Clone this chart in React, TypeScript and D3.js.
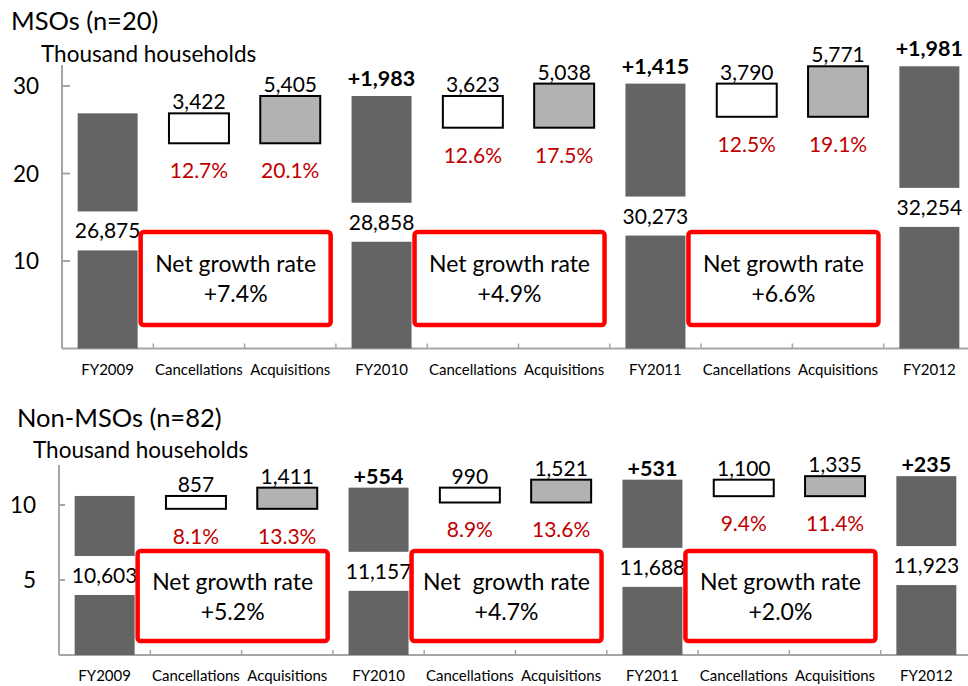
import React from 'react';
import * as d3 from 'd3';

const categories = ['FY2009', 'Cancellations', 'Acquisitions', 'FY2010', 'Cancellations', 'Acquisitions', 'FY2011', 'Cancellations', 'Acquisitions', 'FY2012'];

const msoTotals = [26875, 28858, 30273, 32254];
const msoCancellations = [3422, 3623, 3790];
const msoAcquisitions = [5405, 5038, 5771];
const msoCancelRates = ['12.7%', '12.6%', '12.5%'];
const msoAcqRates = ['20.1%', '17.5%', '19.1%'];
const msoNetGrowth = ['+7.4%', '+4.9%', '+6.6%'];
const msoBoxTitles = ['Net growth rate', 'Net growth rate', 'Net growth rate'];
const msoTicks = [10, 20, 30];

const nonTotals = [10603, 11157, 11688, 11923];
const nonCancellations = [857, 990, 1100];
const nonAcquisitions = [1411, 1521, 1335];
const nonCancelRates = ['8.1%', '8.9%', '9.4%'];
const nonAcqRates = ['13.3%', '13.6%', '11.4%'];
const nonNetGrowth = ['+5.2%', '+4.7%', '+2.0%'];
const nonBoxTitles = ['Net growth rate', 'Net\u00a0 growth rate', 'Net growth rate'];
const nonTicks = [5, 10];

const FONT = 'Lato, Carlito, "Open Sans", sans-serif';
const fmt = d3.format(',');

type ChartProps = {
  title: string;
  titleX: number;
  titleY: number;
  subX: number;
  subY: number;
  totals: number[];
  cancels: number[];
  acqs: number[];
  cancelRates: string[];
  acqRates: string[];
  growth: string[];
  boxTitles: string[];
  ticks: number[];
  y0: number;
  yTop: number;
  yMax: number;
  xLeft: number;
  netOffset: number;
  boxTopOffset: number;
  boxHeight: number;
  boxText1: number;
  boxText2: number;
  tickLen: number;
};

function Waterfall(p: ChartProps) {
  const x = d3.scaleBand<number>()
    .domain(categories.map((_, i) => i))
    .range([p.xLeft, p.xLeft + 913])
    .paddingInner(0.343)
    .paddingOuter(0.1715);
  const y = d3.scaleLinear().domain([0, p.yMax]).range([p.y0, p.yTop]);
  const bw = x.bandwidth();
  const step = x.step();
  const axisColor = '#A6A6A6';

  const items: React.ReactNode[] = [];

  // totals
  p.totals.forEach((v, k) => {
    const xi = x(k * 3)!;
    const top = y(v);
    const mid = (top + p.y0) / 2;
    items.push(
      <g key={'t' + k}>
        <rect x={xi} y={top} width={bw} height={p.y0 - top} fill="#646464" />
        <rect x={xi - 1} y={mid - 19.5} width={bw + 2} height={39} fill="#ffffff" />
        <text x={xi + bw / 2} y={mid} dy="0.36em" textAnchor="middle" fontSize={21} fill="#000">{fmt(v)}</text>
        {k > 0 && (
          <text x={xi + bw / 2} y={top - p.netOffset} textAnchor="middle" fontSize={21.5} fontWeight="bold" fill="#000">
            {'+' + fmt(v - p.totals[k - 1])}
          </text>
        )}
      </g>
    );
  });

  // cancellations & acquisitions
  p.cancels.forEach((c, k) => {
    const prev = p.totals[k];
    const low = prev - c;
    const a = p.acqs[k];
    const xc = x(k * 3 + 1)!;
    const xa = x(k * 3 + 2)!;
    const boxX = x(k * 3)! + bw + 3;
    const boxY = p.y0 - p.boxTopOffset;
    items.push(
      <g key={'c' + k}>
        <rect x={xc} y={y(prev)} width={bw} height={y(low) - y(prev)} fill="#ffffff" stroke="#000" strokeWidth={2} />
        <text x={xc + bw / 2} y={y(prev) - 4} textAnchor="middle" fontSize={21} fill="#000">{fmt(c)}</text>
        <text x={xc + bw / 2} y={y(low) + 35} textAnchor="middle" fontSize={21} fill="#C00000">{p.cancelRates[k]}</text>
        <rect x={xa} y={y(low + a)} width={bw} height={y(low) - y(low + a)} fill="#B2B2B2" stroke="#000" strokeWidth={2} />
        <text x={xa + bw / 2} y={y(low + a) - 4} textAnchor="middle" fontSize={21} fill="#000">{fmt(a)}</text>
        <text x={xa + bw / 2} y={y(low) + 35} textAnchor="middle" fontSize={21} fill="#C00000">{p.acqRates[k]}</text>
        <rect x={boxX} y={boxY} width={190} height={p.boxHeight} rx={3} fill="#ffffff" stroke="#FF0000" strokeWidth={4.5} />
        <text x={boxX + 95} y={boxY + p.boxText1} textAnchor="middle" fontSize={23} fill="#000" style={{ whiteSpace: 'pre' }}>{p.boxTitles[k]}</text>
        <text x={boxX + 95} y={boxY + p.boxText2} textAnchor="middle" fontSize={23} fill="#000">{p.growth[k]}</text>
      </g>
    );
  });

  return (
    <g fontFamily={FONT}>
      <text x={p.titleX} y={p.titleY} fontSize={25.5} fill="#000">{p.title}</text>
      <text x={p.subX} y={p.subY} fontSize={22.5} fill="#000">Thousand households</text>
      {/* y axis */}
      <line x1={p.xLeft} x2={p.xLeft} y1={p.yTop} y2={p.y0} stroke={axisColor} strokeWidth={2} />
      {p.ticks.map((t) => (
        <g key={'yt' + t}>
          <line x1={p.xLeft} x2={p.xLeft + p.tickLen} y1={y(t * 1000)} y2={y(t * 1000)} stroke={axisColor} strokeWidth={2} />
          <text x={p.xLeft - 23} y={y(t * 1000)} dy="0.36em" textAnchor="end" fontSize={22.5} fill="#000">{t}</text>
        </g>
      ))}
      {/* x axis */}
      <line x1={p.xLeft} x2={968} y1={p.y0} y2={p.y0} stroke={axisColor} strokeWidth={2} />
      {categories.map((_, i) => (
        <line key={'xt' + i} x1={p.xLeft + step * (i + 1)} x2={p.xLeft + step * (i + 1)} y1={p.y0} y2={p.y0 - 5} stroke={axisColor} strokeWidth={1.5} />
      ))}
      {categories.map((c, i) => (
        <text key={'xl' + i} x={x(i)! + bw / 2} y={p.y0 + 26} textAnchor="middle" fontSize={15} fill="#000">{c}</text>
      ))}
      {items}
    </g>
  );
}

export default function App() {
  return (
    <svg width={968} height={686} style={{ position: 'absolute', left: 0, top: 0, background: '#fff' }}>
      <rect width={968} height={686} fill="#fff" />
      <Waterfall
        title="MSOs (n=20)" titleX={11} titleY={30} subX={41} subY={62}
        totals={msoTotals} cancels={msoCancellations} acqs={msoAcquisitions}
        cancelRates={msoCancelRates} acqRates={msoAcqRates} growth={msoNetGrowth} boxTitles={msoBoxTitles}
        ticks={msoTicks} y0={348.5} yTop={65} yMax={32400} xLeft={62}
        netOffset={10} boxTopOffset={116.5} boxHeight={93} boxText1={40} boxText2={70} tickLen={8}
      />
      <Waterfall
        title="Non-MSOs (n=82)" titleX={17} titleY={427} subX={33} subY={458}
        totals={nonTotals} cancels={nonCancellations} acqs={nonAcquisitions}
        cancelRates={nonCancelRates} acqRates={nonAcqRates} growth={nonNetGrowth} boxTitles={nonBoxTitles}
        ticks={nonTicks} y0={655} yTop={465} yMax={12667} xLeft={59}
        netOffset={4} boxTopOffset={104} boxHeight={90} boxText1={39} boxText2={69} tickLen={6}
      />
    </svg>
  );
}
